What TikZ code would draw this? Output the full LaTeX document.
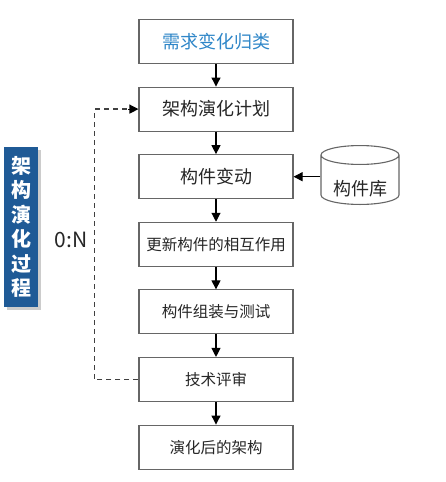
\documentclass[tikz,border=0pt]{standalone}
\usepackage{fontspec}
\setmainfont{Noto Sans CJK SC}
\usetikzlibrary{shapes, arrows.meta, positioning, shadows}

\begin{document}
\begin{tikzpicture}[
    x=1pt, y=-1pt,
    node distance=22.5pt,
    box/.style={draw=black!60, line width=1.1pt, minimum width=154pt, minimum height=44pt, align=center, fill=white, font=\fontsize{18}{20}\selectfont, text=black!85},
    smallbox/.style={box, font=\fontsize{15.5}{18}\selectfont},
    arrow/.style={-{Triangle[length=9pt, width=9pt]}, line width=1.1pt},
    loop/.style={dash pattern=on 5pt off 4pt, line width=1.3pt, draw=black!75}
]
    \useasboundingbox (0,0) rectangle (446,482);

    % Main flow
    \node[box, text={rgb,255:red,46;green,134;blue,200}] (classify) at (216,41.5) {需求变化归类};
    \node[box, below=of classify] (plan) {架构演化计划};
    \node[box, below=of plan] (change) {构件变动};
    \node[smallbox, below=of change] (interact) {更新构件的相互作用};
    \node[smallbox, below=of interact] (assemble) {构件组装与测试};
    \node[smallbox, below=of assemble] (review) {技术评审};
    \node[smallbox, below=of review] (result) {演化后的架构};

    % Component library
    \node[cylinder, shape border rotate=90, draw=black!60, line width=1.1pt, aspect=0.35, minimum width=78pt, minimum height=50pt, inner sep=0pt, text height=30pt, text depth=0pt, font=\fontsize{18}{20}\selectfont, text=black!85] (library) at (360,180) {构件库};

    % Side label
    \node[fill={rgb,255:red,31;green,90;blue,150}, text=white, minimum width=34pt, minimum height=160pt, align=center, inner sep=0pt, drop shadow={opacity=0.4}, font=\fontsize{20}{24.5}\selectfont\bfseries] (process) at (21,227) {架\\构\\演\\化\\过\\程};
    \node[font=\fontsize{21}{24}\selectfont, text=black!85] (count) at (71,240) {0:N};

    % Arrows
    \draw[arrow] (classify) -- (plan);
    \draw[arrow] (plan) -- (change);
    \draw[arrow] (change) -- (interact);
    \draw[arrow] (interact) -- (assemble);
    \draw[arrow] (assemble) -- (review);
    \draw[arrow] (review) -- (result);
    \draw[arrow] (library.west |- change.east) -- (change.east);

    % Iteration loop (dashed back to the plan)
    \draw[loop] (review.west) -- ++(-44,0) |- ([xshift=-10pt]plan.west) coordinate (loopend);
    \draw[arrow] (loopend) -- (plan.west);

\end{tikzpicture}
\end{document}
